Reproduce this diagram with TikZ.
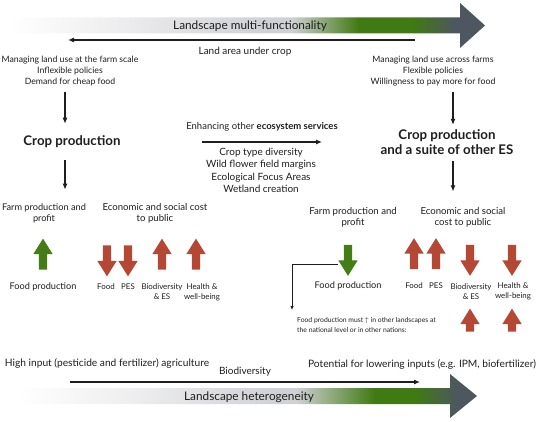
\documentclass[tikz,border=0pt]{standalone}
\usepackage{fontspec}
\setmainfont{Lato}
\usetikzlibrary{arrows.meta,shapes.arrows,calc}
\definecolor{ared}{RGB}{181,72,52}
\definecolor{agreen}{RGB}{68,124,22}
\definecolor{txtc}{RGB}{30,30,30}
\definecolor{bgreyA}{RGB}{236,236,238}
\definecolor{bgrey}{RGB}{208,209,213}
\definecolor{bgreen}{RGB}{64,122,18}
\definecolor{bslate}{RGB}{78,86,96}
\pgfdeclarehorizontalshading{topgrad}{100bp}{color(0bp)=(white); color(26bp)=(white); color(38bp)=(bgreyA); color(52bp)=(bgrey); color(55bp)=(bgrey); color(62bp)=(bgreen); color(67.5bp)=(bgreen); color(72bp)=(bslate); color(100bp)=(bslate)}
\pgfdeclarehorizontalshading{botgrad}{100bp}{color(0bp)=(white); color(27bp)=(white); color(40bp)=(bgreyA); color(54bp)=(bgrey); color(56bp)=(bgrey); color(64.3bp)=(bgreen); color(68.5bp)=(bgreen); color(73bp)=(bslate); color(100bp)=(bslate)}
\tikzset{
  txt/.style={inner sep=0pt, text=txtc},
  fhdr/.style={txt, font=\fontsize{8.7}{11}\selectfont, align=center},
  fsec/.style={txt, font=\fontsize{9.6}{11}\selectfont, align=center},
  fmid/.style={txt, font=\fontsize{10}{12.3}\selectfont, align=center},
  fbig/.style={txt, font=\fontsize{13.3}{15}\selectfont\bfseries, align=center},
  fbar/.style={txt, font=\fontsize{11.8}{13}\selectfont},
  flab/.style={txt, font=\fontsize{7.9}{10}\selectfont, align=center},
  fsmall/.style={txt, font=\fontsize{6.8}{10}\selectfont, align=left},
  arr/.style={line width=1.1pt, draw=txtc, -{Latex[length=6pt,width=5pt]}},
  thinarr/.style={line width=0.8pt, draw=txtc, -{Latex[length=4pt,width=3.5pt]}},
  blk/.style={single arrow, draw=none, inner xsep=0pt, inner ysep=4pt, minimum height=31pt, minimum width=19pt, single arrow head extend=5.5pt, single arrow head indent=0pt, single arrow tip angle=64, outer sep=0pt},
  blkup/.style={blk, rotate=90},
  blkdown/.style={blk, rotate=-90},
  blkshort/.style={minimum height=23pt}
}
\begin{document}
\begin{tikzpicture}[x=1pt,y=-1pt]
\useasboundingbox (0,0) rectangle (537,422);
% top bar arrow
\path[shading=topgrad] (0,17.5) -- (460,17.5) -- (460,3) -- (485,25.5) -- (460,48) -- (460,33.5) -- (0,33.5) -- cycle;
\node[fbar] (topbar) at (250,26) {Landscape multi-functionality};
\coordinate (la1) at (415,40);
\coordinate (la2) at (68,40);
\draw[arr] (la1) -- (la2);
\node[fmid] (landarea) at (245,52) {Land area under crop};
% header texts
\node[fhdr] (lefttxt) at (70,71) {Managing land use at the farm scale\\Inflexible policies\\Demand for cheap food};
\node[fhdr] (righttxt) at (433,71) {Managing land use across farms\\Flexible policies\\Willingness to pay more for food};
% crop production
\node[fbig] (cropL) at (72,142) {Crop production};
\node[fbig] (cropR) at (447,142.5) {Crop production\\and a suite of other ES};
\coordinate (colL) at (65,0);
\coordinate (colR) at (453,0);
\draw[arr] ([yshift=-6pt]lefttxt.south -| colL) -- ([yshift=12pt]cropL.north -| colL);
\draw[arr] ([yshift=-6pt]righttxt.south -| colR) -- ([yshift=5pt]cropR.north -| colR);
% middle
\node[txt, font=\fontsize{9.5}{11}\selectfont] (enh) at (262,127) {Enhancing other \textbf{ecosystem services}};
\coordinate (ma) at (202,142);
\coordinate (mb) at (322,142);
\draw[arr] (ma) -- (mb);
\node[fmid] (list) at (261,170.5) {Crop type diversity\\Wild flower field margins\\Ecological Focus Areas\\Wetland creation};
% second level
\node[fsec, font=\fontsize{9.2}{11}\selectfont] (farmL) at (44,213.5) {Farm production and\\profit};
\node[fsec] (econL) at (155,213.5) {Economic and social cost\\to public};
\node[fsec] (farmR) at (353,217.5) {Farm production and\\profit};
\node[fsec] (econR) at (463,217.5) {Economic and social\\cost to public};
\draw[arr] ([yshift=-12pt]cropL.south -| colL) -- ([yshift=14pt]farmL.north -| colL);
\draw[arr] ([yshift=-6pt]cropR.south -| colR) -- ([yshift=16pt]econR.north -| colR);
% block arrows left
\node[blkup, fill=agreen] (gL) at (43,257.5) {};
\node[blkdown, fill=ared] (rL1) at (107,257.5) {};
\node[blkdown, fill=ared] (rL2) at (128,257.5) {};
\node[blkup, fill=ared] (rL3) at (162,257.5) {};
\node[blkup, fill=ared] (rL4) at (196,257.5) {};
% block arrows right
\node[blkdown, fill=agreen] (gR) at (348,257) {};
\node[blkup, fill=ared] (rR1) at (414,257) {};
\node[blkup, fill=ared] (rR2) at (436,257) {};
\node[blkdown, fill=ared] (rR3) at (470,257) {};
\node[blkdown, fill=ared] (rR4) at (512,257) {};
\node[blkup, blkshort, fill=ared] (rR5) at (470,323.5) {};
\node[blkup, blkshort, fill=ared] (rR6) at (512,323.5) {};
% labels left
\node[fsec, font=\fontsize{9.2}{11}\selectfont] (fpL) at (43,287) {Food production};
\node[flab] (foodL) at (106,287) {Food};
\node[flab] (pesL) at (128,287) {PES};
\node[flab] (bioL) at (162,292) {Biodiversity\\\& ES};
\node[flab] (heaL) at (202,292) {Health \&\\well-being};
% labels right
\node[fsec, font=\fontsize{9.2}{11}\selectfont] (fpR) at (348,286) {Food production};
\node[flab] (foodR) at (414,286) {Food};
\node[flab] (pesR) at (436,286) {PES};
\node[flab] (bioR) at (471,291.5) {Biodiversity\\\& ES};
\node[flab] (heaR) at (513,291.5) {Health \&\\well-being};
% elbow
\coordinate (e1) at (338,264);
\coordinate (e2) at (292,310);
\draw[thinarr] (e1) -| (e2);
\node[fsmall, anchor=west] (must) at (297,325) {Food production must $\uparrow$ in other landscapes at\\the national level or in other nations:};
% bottom
\node[fmid, font=\fontsize{10.2}{12}\selectfont] (high) at (107,363) {High input (pesticide and fertilizer) agriculture};
\node[fmid] (biod) at (245,372) {Biodiversity};
\node[fmid, font=\fontsize{10.2}{12}\selectfont] (pot) at (422,364) {Potential for lowering inputs (e.g. IPM, biofertilizer)};
\coordinate (ba1) at (70,382);
\coordinate (ba2) at (420,382);
\draw[arr] (ba1) -- (ba2);
\path[shading=botgrad] (0,388) -- (450,388) -- (450,374) -- (477,396) -- (450,418) -- (450,404) -- (0,404) -- cycle;
\node[fbar] (botbar) at (249,397) {Landscape heterogeneity};
\end{tikzpicture}
\end{document}
